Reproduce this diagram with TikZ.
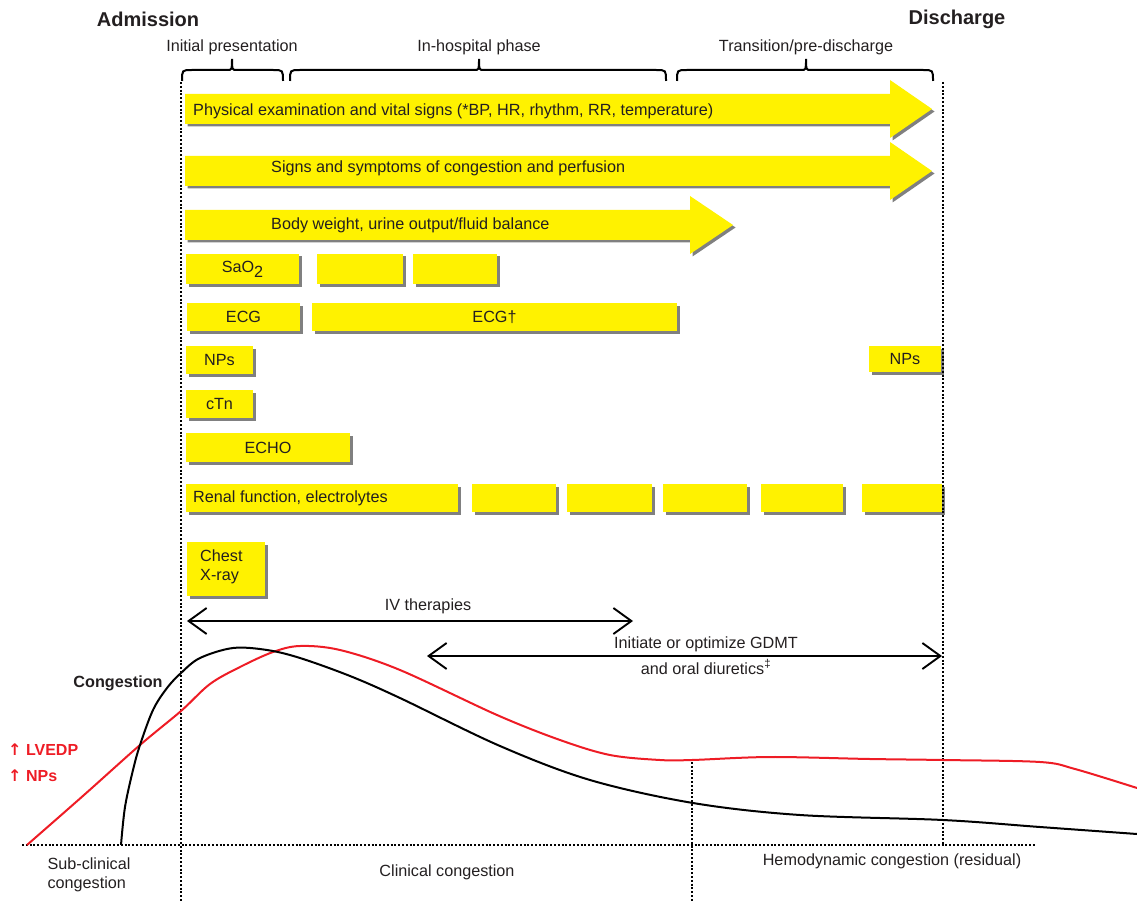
\documentclass[tikz,border=0pt]{standalone}
\usepackage{fontspec}
\setmainfont{Liberation Sans}
\newfontfamily\dejavu{DejaVu Sans}
\usetikzlibrary{arrows.meta,fit}
\definecolor{yel}{HTML}{FFF200}
\definecolor{shd}{HTML}{808080}
\definecolor{txtc}{HTML}{231F20}
\definecolor{redc}{HTML}{EE1C25}
\newcommand\ybx[5]{%
  \fill[shd] ({#2+2.5},{#3+2.5}) rectangle ({#4+2.5},{#5+2.5});
  \node[yfit, fit={(#2,#3) (#4,#5)}] (#1) {};}
\newcommand\yarr[5]{%
  \foreach \dd/\cl in {2.5/shd,0/yel}{%
    \fill[fill=\cl] ({#1+\dd},{#2+\dd}) -- ({#4+\dd},{#2+\dd}) -- ({#4+\dd},{#2-14+\dd}) -- ({#5+\dd},{(#2+#3)/2+\dd}) -- ({#4+\dd},{#3+14+\dd}) -- ({#4+\dd},{#3+\dd}) -- ({#1+\dd},{#3+\dd}) -- cycle;}}
\newcommand\mybrace[3]{%
  \draw[brc] (#1,81) .. controls (#1,70) .. ({#1+10},70) -- ({#3-5},70) .. controls (#3,70) .. (#3,59) .. controls (#3,70) .. ({#3+5},70) -- ({#2-10},70) .. controls (#2,70) .. (#2,81);}
\begin{document}
\begin{tikzpicture}[x=1pt,y=-1pt,
  every node/.style={text=txtc, font=\fontsize{16.2}{19.5}\selectfont, inner sep=0pt},
  yfit/.style={fill=yel, inner sep=0pt},
  bigb/.style={font=\bfseries\fontsize{20}{24}\selectfont},
  redb/.style={text=redc, font=\bfseries\fontsize{16}{19}\selectfont},
  dotline/.style={line width=2pt, dash pattern=on 2pt off 1.8pt, black},
  brc/.style={line width=2pt, black},
  dbl/.style={line width=1.9pt, black, {Straight Barb[length=18pt,width=26pt]}-{Straight Barb[length=18pt,width=26pt]}},
  curve/.style={line width=2pt}
]
\useasboundingbox (0,0) rectangle (1137,901);

% headings
\node[bigb] (adm) at (148,19) {Admission};
\node[bigb] (dis) at (957,19) {Discharge};
\node (ip) at (232,47) {Initial presentation};
\node (ih) at (479,47) {In-hospital phase};
\node (tp) at (806,47) {Transition/pre-discharge};
\mybrace{182}{283}{232}
\mybrace{290}{666}{479}
\mybrace{677}{933}{806}

% big arrows
\yarr{185}{94}{124}{890}{932}
\yarr{185}{156}{186}{890}{932}
\yarr{185}{210}{240}{690}{733}
\node[anchor=west] (a1) at (193,111) {Physical examination and vital signs (*BP, HR, rhythm, RR, temperature)};
\node[anchor=west] (a2) at (271,168) {Signs and symptoms of congestion and perfusion};
\node[anchor=west] (a3) at (271,225) {Body weight, urine output/fluid balance};

% boxes
\ybx{sao}{186}{254}{299}{284}
\ybx{sb2}{317}{254}{403}{284}
\ybx{sb3}{413}{254}{497}{284}
\node (saot) at (sao.center) {SaO\raisebox{-0.3em}{2}};
\ybx{ecg}{187}{303}{300}{331}
\ybx{ecgd}{312}{303}{677}{331}
\node (ecgt) at (ecg.center) {ECG};
\node (ecgdt) at (ecgd.center) {ECG†};
\ybx{np1}{186}{346}{253}{374}
\ybx{np2}{869}{346}{941}{372}
\node (np1t) at (np1.center) {NPs};
\node (np2t) at (np2.center) {NPs};
\ybx{ctn}{186}{390}{253}{418}
\node (ctnt) at (ctn.center) {cTn};
\ybx{echo}{186}{433}{350}{462}
\node (echot) at (echo.center) {ECHO};
\ybx{r1}{186}{484}{458}{512}
\ybx{r2}{472}{484}{556}{512}
\ybx{r3}{567}{484}{652}{512}
\ybx{r4}{663}{484}{747}{512}
\ybx{r5}{761}{484}{843}{512}
\ybx{r6}{862}{484}{942}{512}
\node[anchor=west] (r1t) at (193,498) {Renal function, electrolytes};
\ybx{cxr}{187}{542}{265}{596}
\node[anchor=west, align=left] (cxrt) at (200,567) {Chest\\X-ray};

% therapy arrows
\coordinate (ivL) at (187,621);
\coordinate (ivR) at (633,621);
\draw[dbl] (ivL) -- (ivR);
\node (ivt) at (428,606) {IV therapies};
\coordinate (gdL) at (427,656);
\coordinate (gdR) at (942,656);
\draw[dbl] (gdL) -- (gdR);
\node (gdt1) at (706,644) {Initiate or optimize GDMT};
\node (gdt2) at (706,667) {and oral diuretics\textsuperscript{‡}};

% dotted lines
\coordinate (d1a) at (181,82); \coordinate (d1b) at (181,901);
\coordinate (d2a) at (943,82); \coordinate (d2b) at (943,845);
\coordinate (d3a) at (692,762); \coordinate (d3b) at (692,901);
\coordinate (hA) at (22,845); \coordinate (hB) at (1036,845);
\draw[dotline] (d1a) -- (d1b);
\draw[dotline] (d2a) -- (d2b);
\draw[dotline] (d3a) -- (d3b);
\draw[dotline] (hA) -- (hB);

% curves
\draw[curve, redc] plot[smooth, tension=0.55] coordinates {(27,845) (84,795) (140,745) (181,711) (210,684) (240,667) (273,652) (300,646) (340,650) (400,670) (497,715) (560,740) (610,755) (660,760) (692,760) (770,757) (870,759) (943,760) (1040,762) (1075,769) (1137,788)};
\draw[curve, black] plot[smooth, tension=0.55] coordinates {(121,845) (125,807) (133,770) (140,745) (153,710) (167,688) (181,673) (200,658) (233,648) (267,650) (300,658) (350,676) (400,698) (500,746) (590,780) (693,803) (800,815) (943,820) (1040,827) (1137,834)};

% labels
\node (cong) at (118,683) {\bfseries Congestion};
\node[redb, anchor=west] (lv) at (8,750) {{\dejavu\bfseries ↑} LVEDP};
\node[redb, anchor=west] (lnp) at (8,776) {{\dejavu\bfseries ↑} NPs};
\node[align=left] (sub) at (89,875) {Sub-clinical\\congestion};
\node (clin) at (447,872) {Clinical congestion};
\node (hemo) at (892,861) {Hemodynamic congestion (residual)};
\end{tikzpicture}
\end{document}
